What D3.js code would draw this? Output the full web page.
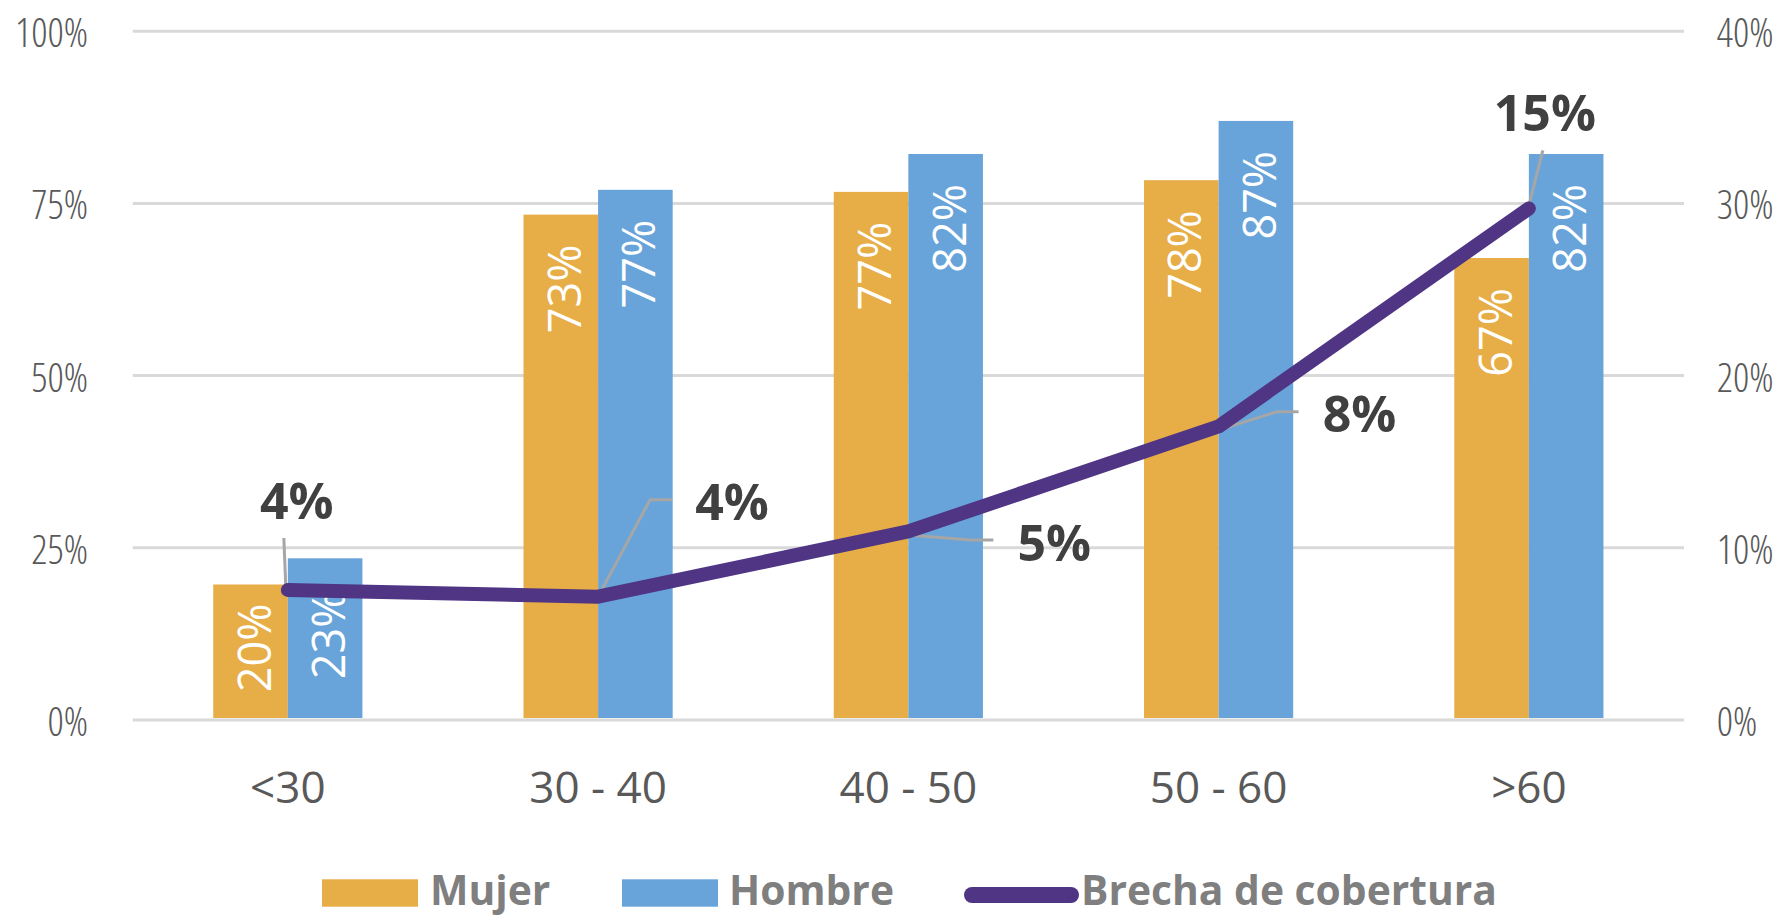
<!DOCTYPE html>
<html>
<head>
<meta charset="utf-8">
<script src="https://cdn.jsdelivr.net/npm/d3@7"></script>
<style>
  html, body { margin: 0; padding: 0; background: #fff; }
  svg { display: block; }
</style>
</head>
<body>
<svg id="chart" width="1773" height="916"></svg>
<script>
// ---------------- DATA ----------------
const categories = ["<30", "30 - 40", "40 - 50", "50 - 60", ">60"];
const seriesNames = ["Mujer", "Hombre"];
const mujer  = [0.196, 0.733, 0.766, 0.783, 0.670];
const hombre = [0.234, 0.769, 0.821, 0.869, 0.821];
const brecha = [0.0752, 0.0713, 0.1092, 0.1702, 0.2968];          // line, right axis
const brechaLabels = [0.04, 0.04, 0.05, 0.08, 0.15];               // printed labels
const leftTicks  = [0, 0.25, 0.5, 0.75, 1];
const rightTicks = [0, 0.1, 0.2, 0.3, 0.4];
const lineName = "Brecha de cobertura";

// ---------------- LAYOUT ----------------
const W = 1773, H = 916;
const plot = { left: 132.7, right: 1684, top: 30.7, bottom: 719.5 };
const colors = { Mujer: "#E7AD47", Hombre: "#68A4D9", line: "#4F3584",
                 grid: "#D9D9D9", axisText: "#595959", label: "#404040",
                 leader: "#A6A6A6", legend: "#7F7F7F" };
// leader geometry for line labels, relative to point: polyline points, label center/baseline
const labelLayout = [
  { leader: [[-2, -2], [-4, -52]],              tx: 9,   ty: -71 },
  { leader: [[0, 0], [52, -97], [74, -97]],     tx: 134, ty: -77 },
  { leader: [[0, 3.6], [62, 8.6], [85, 8.6]],   tx: 146, ty: 30 },
  { leader: [[0, 3.7], [58, -14.6], [80, -14.6]], tx: 141, ty: 6 },
  { leader: [[0, -3], [14, -58]],               tx: 16,  ty: -77 }
];

const svg = d3.select("#chart");

const x = d3.scaleBand().domain(categories).range([plot.left, plot.right]).paddingInner(0).paddingOuter(0);
const xs = d3.scaleBand().domain(seriesNames).range([0, x.bandwidth()]).paddingInner(0).paddingOuter(1.08);
const yL = d3.scaleLinear().domain([0, 1]).range([plot.bottom, plot.top]);
const yR = d3.scaleLinear().domain([0, 0.4]).range([plot.bottom, plot.top]);
const pct = d3.format(".0%");

// ---------------- AXES / GRID ----------------
const gL = svg.append("g").attr("transform", `translate(${plot.left},0)`)
  .call(d3.axisLeft(yL).tickValues(leftTicks).tickFormat(pct)
        .tickSizeInner(-(plot.right - plot.left)).tickSizeOuter(0).tickPadding(44.7));
gL.select(".domain").remove();
gL.selectAll(".tick line").attr("stroke", colors.grid).attr("stroke-width", 3);
gL.selectAll(".tick text").attr("dy", "0.4em");

const gR = svg.append("g").attr("transform", `translate(${plot.right},0)`)
  .call(d3.axisRight(yR).tickValues(rightTicks).tickFormat(pct).tickSize(0).tickPadding(32.7));
gR.select(".domain").remove();
gR.selectAll(".tick text").attr("dy", "0.4em");

svg.selectAll(".tick text")
  .attr("fill", colors.axisText)
  .style("font-family", "'Open Sans', sans-serif")
  .style("font-weight", 300)
  .style("font-stretch", "75%")
  .style("font-size", "40px");

const gX = svg.append("g").attr("transform", `translate(0,${plot.bottom})`)
  .call(d3.axisBottom(x).tickSize(0));
gX.select(".domain").remove();
gX.selectAll(".tick text")
  .attr("y", 803.3 - plot.bottom).attr("dy", null)
  .attr("fill", colors.axisText)
  .style("font-family", "'Open Sans', sans-serif")
  .style("font-size", "44px");

// ---------------- BARS ----------------
const rows = categories.map((c, i) => ({ cat: c, Mujer: mujer[i], Hombre: hombre[i] }));
const barData = rows.flatMap(r => seriesNames.map(s => ({ cat: r.cat, s, v: r[s] })));

svg.append("g").selectAll("rect").data(barData).join("rect")
  .attr("x", d => x(d.cat) + xs(d.s))
  .attr("width", xs.bandwidth())
  .attr("y", d => yL(d.v))
  .attr("height", d => yL(0) - yL(d.v) - 1.5)
  .attr("fill", d => colors[d.s]);

const barFont = 45, capH = 0.714 * barFont;
svg.append("g").selectAll("text").data(barData).join("text")
  .attr("transform", d => {
    const cx = x(d.cat) + xs(d.s) + xs.bandwidth() / 2 + 4 + capH / 2;
    const top = yL(d.v), h = yL(0) - top;
    const yy = h < 200 ? (top + yL(0)) / 2 - 4 : top + 30;
    return `translate(${cx},${yy}) rotate(-90)`;
  })
  .attr("text-anchor", d => (yL(0) - yL(d.v)) < 200 ? "middle" : "end")
  .attr("fill", "#fff")
  .style("font-family", "'Open Sans', sans-serif")
  .style("font-weight", 500)
  .style("font-size", barFont + "px")
  .text(d => pct(d.v));

// ---------------- LINE ----------------
const pts = categories.map((c, i) => [x(c) + x.bandwidth() / 2, yR(brecha[i])]);

// leaders
svg.append("g").selectAll("polyline").data(pts).join("polyline")
  .attr("points", (p, i) => labelLayout[i].leader.map(q => [p[0] + q[0], p[1] + q[1]].join(",")).join(" "))
  .attr("fill", "none").attr("stroke", colors.leader).attr("stroke-width", 3);

svg.append("path")
  .attr("d", d3.line()(pts))
  .attr("fill", "none")
  .attr("stroke", colors.line)
  .attr("stroke-width", 14)
  .attr("stroke-linecap", "round")
  .attr("stroke-linejoin", "round");

svg.append("g").selectAll("text").data(pts).join("text")
  .attr("x", (p, i) => p[0] + labelLayout[i].tx)
  .attr("y", (p, i) => p[1] + labelLayout[i].ty)
  .attr("text-anchor", "middle")
  .attr("fill", colors.label)
  .style("font-family", "'Open Sans', sans-serif")
  .style("font-weight", 700)
  .style("font-size", "50px")
  .text((p, i) => pct(brechaLabels[i]));

// ---------------- LEGEND ----------------
const legend = svg.append("g");
const legendItems = [
  { name: seriesNames[0], type: "rect", x0: 322, x1: 418, tx: 430 },
  { name: seriesNames[1], type: "rect", x0: 622, x1: 718, tx: 729 },
  { name: lineName,       type: "line", x0: 972, x1: 1071, tx: 1081 }
];
legendItems.forEach(it => {
  if (it.type === "rect") {
    legend.append("rect").attr("x", it.x0).attr("y", 879.3).attr("width", it.x1 - it.x0).attr("height", 27.4)
      .attr("fill", colors[it.name]);
  } else {
    legend.append("line").attr("x1", it.x0).attr("x2", it.x1).attr("y1", 895).attr("y2", 895)
      .attr("stroke", colors.line).attr("stroke-width", 16).attr("stroke-linecap", "round");
  }
  legend.append("text").attr("x", it.tx).attr("y", 905)
    .attr("fill", colors.legend)
    .style("font-family", "'Open Sans', sans-serif")
    .style("font-weight", 700)
    .style("font-size", "40.8px")
    .text(it.name);
});
</script>
</body>
</html>
